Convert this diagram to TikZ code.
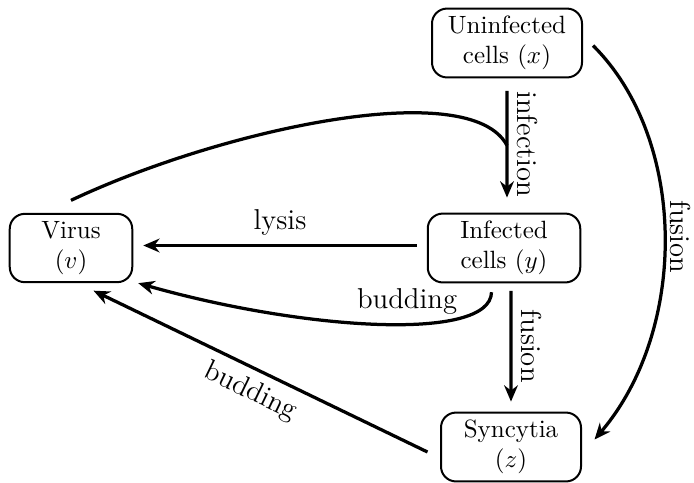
\documentclass[tikz,border=0pt]{standalone}
\usepackage{amsmath}
\usetikzlibrary{arrows.meta, positioning, calc}

\begin{document}
\begin{tikzpicture}[
    x=0.4pt,
    y=-0.4pt,
    >={Stealth[length=6.5pt,width=5.5pt]},
    cellbox/.style={draw, line width=0.8pt, rounded corners=6pt, align=center, inner xsep=5pt, inner ysep=3pt, minimum height=27pt},
    flow/.style={->, line width=1.3pt},
    lbl/.style={font=\fontsize{11.5}{14}\selectfont}
]
\useasboundingbox (0,0) rectangle (694,482);
% Compartments
\node[cellbox, minimum width=60pt] (uninf) at (507,43) {Uninfected\\cells $(x)$};
\node[cellbox, minimum width=61pt] (inf) at (504,248) {Infected\\cells $(y)$};
\node[cellbox, minimum width=49pt] (virus) at (71,248) {Virus\\$(v)$};
\node[cellbox, minimum width=56pt] (sync) at (511,447) {Syncytia\\$(z)$};
% Infection
\draw[flow] ([yshift=-5pt]uninf.south) -- node[lbl, midway, anchor=south, rotate=-90] {infection} ([xshift=1.2pt,yshift=6pt]inf.north);
\coordinate (join) at ($(uninf.south)!0.5!([xshift=1.2pt]inf.north)$);
\draw[line width=1.3pt] ([yshift=5pt]virus.north) .. controls (220,130) and (470,75) .. (join);
% Lysis
\draw[flow] ([xshift=-4pt,yshift=1pt]inf.west) -- node[lbl, above] {lysis} ([xshift=4pt,yshift=1pt]virus.east);
% Budding
\draw[flow] ([xshift=-5pt,yshift=-3.5pt]inf.south) .. controls +(-1,50) and +(165,47) .. node[lbl, pos=0.42, above] {budding} ([xshift=2pt]virus.south east);
\draw[flow] ([xshift=-5pt,yshift=-2pt]sync.west) -- node[lbl, sloped, below] {budding} ([xshift=9pt,yshift=-3pt]virus.south);
% Fusion
\draw[flow] ([xshift=2.8pt,yshift=-3pt]inf.south) -- node[lbl, midway, anchor=south, rotate=-90] {fusion} ([yshift=4pt]sync.north);
\draw[flow] ([xshift=4pt,yshift=-1pt]uninf.east) .. controls (688,140) and (688,330) .. node[lbl, midway, anchor=south, rotate=-90, inner sep=1.5pt] {fusion} ([xshift=5pt,yshift=3pt]sync.east);
\end{tikzpicture}
\end{document}
